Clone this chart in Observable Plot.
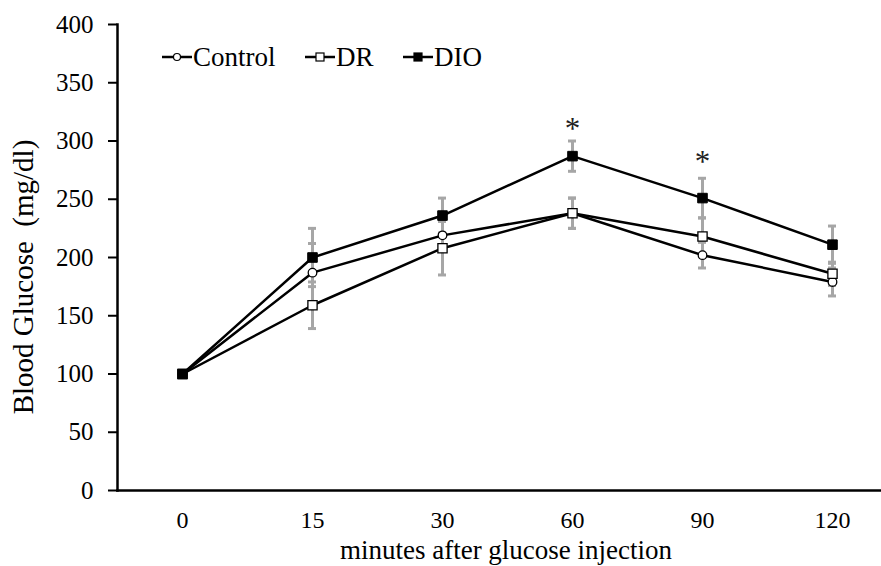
<!DOCTYPE html>
<html>
<head>
<meta charset="utf-8">
<script src="https://cdn.jsdelivr.net/npm/d3@7"></script>
<script src="https://cdn.jsdelivr.net/npm/@observablehq/plot@0.6"></script>
<style>
  html, body { margin: 0; padding: 0; background: #fff; }
  #chart { position: relative; width: 881px; height: 566px; }
  svg { font-family: "Liberation Serif", "Times New Roman", serif; }
</style>
</head>
<body>
<div id="chart"></div>
<script>
// ---- data ----
const times = ["0", "15", "30", "60", "90", "120"];
const controlMean = [100, 187, 219, 238, 202, 179];
const controlErr  = [0, 25, 12, 13, 11, 12];
const drMean      = [100, 159, 208, 238, 218, 186];
const drErr       = [0, 20, 23, 13, 16, 10];
const dioMean     = [100, 200, 236, 287, 251, 211];
const dioErr      = [0, 25, 15, 13, 17, 16];
const significant = ["60", "90"];
const significantY = [316, 288];
const yTicks = [0, 50, 100, 150, 200, 250, 300, 350, 400];
const seriesNames = ["Control", "DR", "DIO"];

const series = [
  {name: "Control", mean: controlMean, err: controlErr},
  {name: "DR", mean: drMean, err: drErr},
  {name: "DIO", mean: dioMean, err: dioErr}
];
const rows = series.flatMap(s => times.map((t, i) => ({series: s.name, t, v: s.mean[i], e: s.err[i]})));
const errRows = rows.filter(d => d.e > 0);
const sigRows = significant.map((t, i) => ({t, v: significantY[i]}));

const font = "Liberation Serif, Times New Roman, serif";

const plot = Plot.plot({
  width: 881,
  height: 566,
  marginLeft: 117,
  marginRight: 0,
  marginTop: 24,
  marginBottom: 76,
  style: {fontFamily: font, fontSize: "24px", color: "#000", background: "#fff"},
  x: {type: "point", domain: times, range: [181, 833], padding: 0},
  y: {domain: [0, 400]},
  marks: [
    Plot.frame({anchor: "left", stroke: "#000", strokeWidth: 2.5}),
    Plot.frame({anchor: "bottom", stroke: "#000", strokeWidth: 2.5}),
    Plot.axisY({ticks: yTicks, tickSize: 9, tickPadding: 15, tickFormat: d => String(d), label: null, fontSize: 25, strokeWidth: 2}),
    Plot.axisX({tickSize: 0, tickPadding: 20, label: null, fontSize: 24}),
    // error bars
    Plot.ruleX(errRows, {x: "t", y1: d => d.v - d.e, y2: d => d.v + d.e, stroke: "#a6a6a6", strokeWidth: 3}),
    Plot.ruleY(errRows, {x1: "t", x2: "t", y: d => d.v + d.e, stroke: "#a6a6a6", strokeWidth: 3, insetLeft: -4, insetRight: -4}),
    Plot.ruleY(errRows, {x1: "t", x2: "t", y: d => d.v - d.e, stroke: "#a6a6a6", strokeWidth: 3, insetLeft: -4, insetRight: -4}),
    // lines
    Plot.line(rows, {x: "t", y: "v", z: "series", stroke: "#000", strokeWidth: 2.5}),
    // markers
    Plot.dot(rows.filter(d => d.series === "Control"), {x: "t", y: "v", symbol: "circle", r: 4.3, fill: "#fff", stroke: "#000", strokeWidth: 1.3}),
    Plot.dot(rows.filter(d => d.series === "DR"), {x: "t", y: "v", symbol: "square", r: 5.2, fill: "#fff", stroke: "#000", strokeWidth: 1.3}),
    Plot.dot(rows.filter(d => d.series === "DIO"), {x: "t", y: "v", symbol: "square", r: 5.4, fill: "#000", stroke: "#000", strokeWidth: 1}),
    // significance
    Plot.text(sigRows, {x: "t", y: "v", text: () => "*", fontSize: 31, dy: 7, lineAnchor: "middle", fill: "#222"})
  ]
});

const svg = d3.select(plot);
// axis titles
svg.append("text")
  .attr("transform", "translate(33,277) rotate(-90)")
  .attr("text-anchor", "middle")
  .attr("font-size", 29)
  .attr("fill", "#000")
  .text("Blood Glucose  (mg/dl)");
svg.append("text")
  .attr("x", 506).attr("y", 559)
  .attr("text-anchor", "middle")
  .attr("font-size", 27)
  .attr("fill", "#000")
  .text("minutes after glucose injection");

// legend
const legendX = [162, 305, 403];
const leg = svg.append("g").attr("font-size", 27).attr("text-anchor", "start");
seriesNames.forEach((name, i) => {
  const g = leg.append("g").attr("transform", `translate(${legendX[i]},57)`);
  g.append("line").attr("x1", 0).attr("x2", 30).attr("y1", 0).attr("y2", 0).attr("stroke", "#000").attr("stroke-width", 2.5);
  if (name === "Control") g.append("circle").attr("cx", 15).attr("cy", 0).attr("r", 3.5).attr("fill", "#fff").attr("stroke", "#000").attr("stroke-width", 1.2);
  else g.append("rect").attr("x", 11).attr("y", -4).attr("width", 8).attr("height", 8)
        .attr("fill", name === "DIO" ? "#000" : "#fff").attr("stroke", "#000").attr("stroke-width", 1.2);
  g.append("text").attr("x", 31).attr("y", 9).attr("fill", "#000").text(name);
});

document.getElementById("chart").appendChild(plot);
</script>
</body>
</html>
